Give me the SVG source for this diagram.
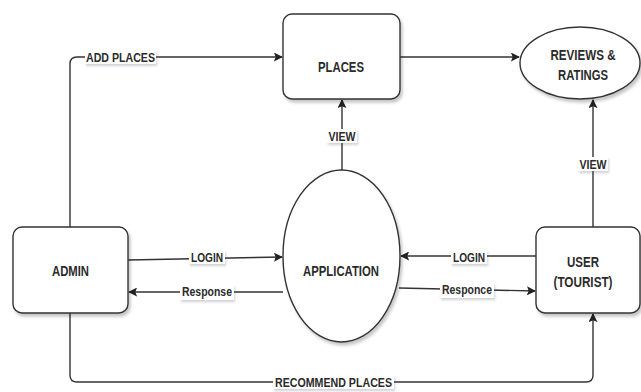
<svg xmlns="http://www.w3.org/2000/svg" width="641" height="392" viewBox="0 0 641 392">
<style>
.node{fill:#fff;stroke:#333;stroke-width:1.4;filter:url(#sh)}
.edge{fill:none;stroke:#333;stroke-width:1.4}
.t{font-family:"Liberation Sans",Arial,sans-serif;font-size:14px;font-weight:bold;fill:#2b2b2b;text-anchor:middle}
.l{font-family:"Liberation Sans",Arial,sans-serif;font-size:13.5px;font-weight:bold;fill:#2b2b2b;text-anchor:middle}
.lb{fill:#fff;filter:url(#sh2)}
</style>
<defs>
<filter id="sh" x="-10%" y="-10%" width="130%" height="130%">
<feDropShadow dx="2" dy="3" stdDeviation="1.5" flood-color="#000" flood-opacity="0.22"/>
</filter>
<filter id="sh2" x="-20%" y="-30%" width="140%" height="180%">
<feDropShadow dx="1" dy="2" stdDeviation="1.2" flood-color="#446" flood-opacity="0.25"/>
</filter>
<marker id="ar" viewBox="0 0 10 10" refX="9" refY="5" markerWidth="9" markerHeight="9" markerUnits="userSpaceOnUse" orient="auto">
<path d="M0,0 L10,5 L0,10 L2,5 Z" fill="#222"/>
</marker>
</defs>

<g id="connectors">
<path class="edge" d="M70,227 V64 Q70,57 77,57 H282" marker-end="url(#ar)"/>
<path class="edge" d="M400,57 H519" marker-end="url(#ar)"/>
<path class="edge" d="M342,170 V100" marker-end="url(#ar)"/>
<path class="edge" d="M593,227 V100" marker-end="url(#ar)"/>
<path class="edge" d="M128,260 L282,257" marker-end="url(#ar)"/>
<path class="edge" d="M283,292 H129" marker-end="url(#ar)"/>
<path class="edge" d="M536,256 H401" marker-end="url(#ar)"/>
<path class="edge" d="M399,288 L535,291" marker-end="url(#ar)"/>
<path class="edge" d="M70,313 V375 Q70,382 77,382 H586 Q593,382 593,375 V314" marker-end="url(#ar)"/>
<g id="labels">
<rect class="lb" x="85" y="50" width="71" height="14"/>
<text class="l" x="120.5" y="62" textLength="69" lengthAdjust="spacingAndGlyphs">ADD PLACES</text>
<rect class="lb" x="327" y="129" width="30" height="14"/>
<text class="l" x="342" y="141" textLength="27" lengthAdjust="spacingAndGlyphs">VIEW</text>
<rect class="lb" x="578" y="157" width="30" height="14"/>
<text class="l" x="593" y="169" textLength="27" lengthAdjust="spacingAndGlyphs">VIEW</text>
<rect class="lb" x="189" y="250" width="36" height="14"/>
<text class="l" x="207" y="262" textLength="32" lengthAdjust="spacingAndGlyphs">LOGIN</text>
<rect class="lb" x="180" y="285" width="54" height="15"/>
<text class="l" x="207" y="296" textLength="50" lengthAdjust="spacingAndGlyphs">Response</text>
<rect class="lb" x="451" y="250" width="36" height="14"/>
<text class="l" x="469" y="262" textLength="32" lengthAdjust="spacingAndGlyphs">LOGIN</text>
<rect class="lb" x="440" y="283" width="54" height="15"/>
<text class="l" x="467" y="294" textLength="50" lengthAdjust="spacingAndGlyphs">Responce</text>
<rect class="lb" x="273" y="375" width="121" height="14"/>
<text class="l" x="333.5" y="387" textLength="117" lengthAdjust="spacingAndGlyphs">RECOMMEND PLACES</text>
</g>
</g>

<g id="places">
<rect class="node" x="283" y="14" width="117" height="85" rx="9"/>
<text class="t" x="341" y="72" textLength="46" lengthAdjust="spacingAndGlyphs">PLACES</text>
</g>
<g id="reviews">
<ellipse class="node" cx="580" cy="63" rx="60" ry="36"/>
<text class="t" x="583" y="60" textLength="65" lengthAdjust="spacingAndGlyphs">REVIEWS &amp;</text>
<text class="t" x="583" y="80" textLength="50" lengthAdjust="spacingAndGlyphs">RATINGS</text>
</g>
<g id="admin">
<rect class="node" x="13" y="227" width="115" height="86" rx="9"/>
<text class="t" x="70.5" y="276" textLength="37" lengthAdjust="spacingAndGlyphs">ADMIN</text>
</g>
<g id="application">
<ellipse class="node" cx="341.5" cy="256" rx="58.5" ry="86"/>
<text class="t" x="341" y="276" textLength="76" lengthAdjust="spacingAndGlyphs">APPLICATION</text>
</g>
<g id="user">
<rect class="node" x="536" y="227" width="104" height="86" rx="9"/>
<text class="t" x="583" y="267" textLength="32" lengthAdjust="spacingAndGlyphs">USER</text>
<text class="t" x="583" y="287" textLength="59" lengthAdjust="spacingAndGlyphs">(TOURIST)</text>
</g>
</svg>
